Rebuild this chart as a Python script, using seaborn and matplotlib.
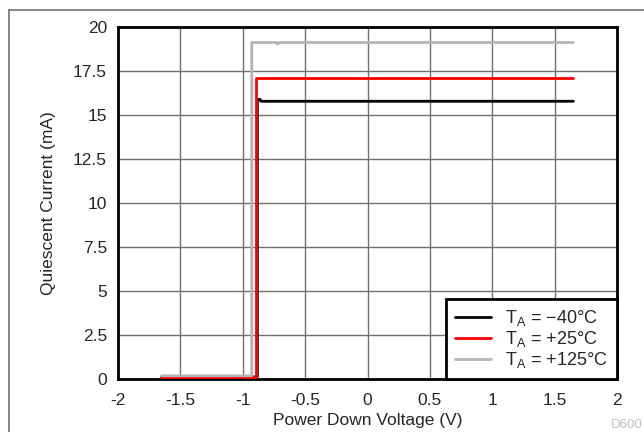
import matplotlib
matplotlib.use("Agg")
import matplotlib.pyplot as plt
from matplotlib.lines import Line2D
import seaborn as sns
import pandas as pd

sns.set_style("white")
plt.rcParams['font.family'] = ['Liberation Sans', 'DejaVu Sans']

# data
v_m40 = [-1.65, -0.887, -0.883, -0.883, -0.86, -0.855, 1.65]
i_m40 = [0.12, 0.12, 0.12, 15.88, 15.88, 15.78, 15.78]
v_25 = [-1.65, -0.896, -0.896, 1.65]
i_25 = [0.12, 0.12, 17.12, 17.12]
v_125 = [-1.65, -0.928, -0.928, -0.73, -0.72, -0.71, 1.65]
i_125 = [0.18, 0.18, 19.12, 19.12, 19.02, 19.12, 19.12]
labels = ["T$_\\mathregular{A}$ = \u221240\u00b0C", "T$_\\mathregular{A}$ = +25\u00b0C", "T$_\\mathregular{A}$ = +125\u00b0C"]
colors = ["black", "#ff0000", "#b4b4b4"]
xticks = [-2, -1.5, -1, -0.5, 0, 0.5, 1, 1.5, 2]
xticklabels = ["-2", "-1.5", "-1", "-0.5", "0", "0.5", "1", "1.5", "2"]
yticks = [0, 2.5, 5, 7.5, 10, 12.5, 15, 17.5, 20]
yticklabels = ["0", "2.5", "5", "7.5", "10", "12.5", "15", "17.5", "20"]

W, H = 644, 432
fig = plt.figure(figsize=(6.44, 4.32), dpi=100)
ax = fig.add_axes([118/W, 1-379/H, (617-118)/W, (379-27)/H])

series = [(v_m40, i_m40), (v_25, i_25), (v_125, i_125)]
for (v, i), lab, c in zip(series, labels, colors):
    df = pd.DataFrame({"v": v, "i": i})
    sns.lineplot(data=df, x="v", y="i", ax=ax, color=c, lw=2, label=lab,
                 sort=False, estimator=None, zorder=3)

ax.set_xlim(-2, 2)
ax.set_ylim(0, 20)
ax.set_xticks(xticks)
ax.set_xticklabels(xticklabels)
ax.set_yticks(yticks)
ax.set_yticklabels(yticklabels)
ax.grid(True, color="#707070", lw=1)
ax.set_axisbelow(True)
for s in ax.spines.values():
    s.set_color("black")
    s.set_linewidth(2)
ax.tick_params(axis="both", labelsize=12.5, length=0)
ax.tick_params(axis="x", pad=10)
ax.tick_params(axis="y", pad=8)
ax.set_xlabel("Power Down Voltage (V)", fontsize=12.5, labelpad=4)
ax.set_ylabel("Quiescent Current (mA)", fontsize=12.5, labelpad=12)

leg = ax.legend(loc="lower right", fontsize=13, frameon=True, fancybox=False,
                borderaxespad=0, handlelength=2.0, handletextpad=0.8,
                borderpad=0.5, labelspacing=0.05)
leg.get_frame().set_edgecolor("black")
leg.get_frame().set_linewidth(2)
leg.get_frame().set_alpha(1)

fig.text(643/W, 1/H, "D600", fontsize=9.5, color="#c0c0c0", ha="right", va="bottom")
fig.lines.append(Line2D([9/W, 9/W], [0, 1-9.5/H], transform=fig.transFigure, color="#707070", lw=1.2))
fig.lines.append(Line2D([9/W, 1], [1-9.5/H, 1-9.5/H], transform=fig.transFigure, color="#707070", lw=1.2))

fig.savefig("out.png", dpi=100)
